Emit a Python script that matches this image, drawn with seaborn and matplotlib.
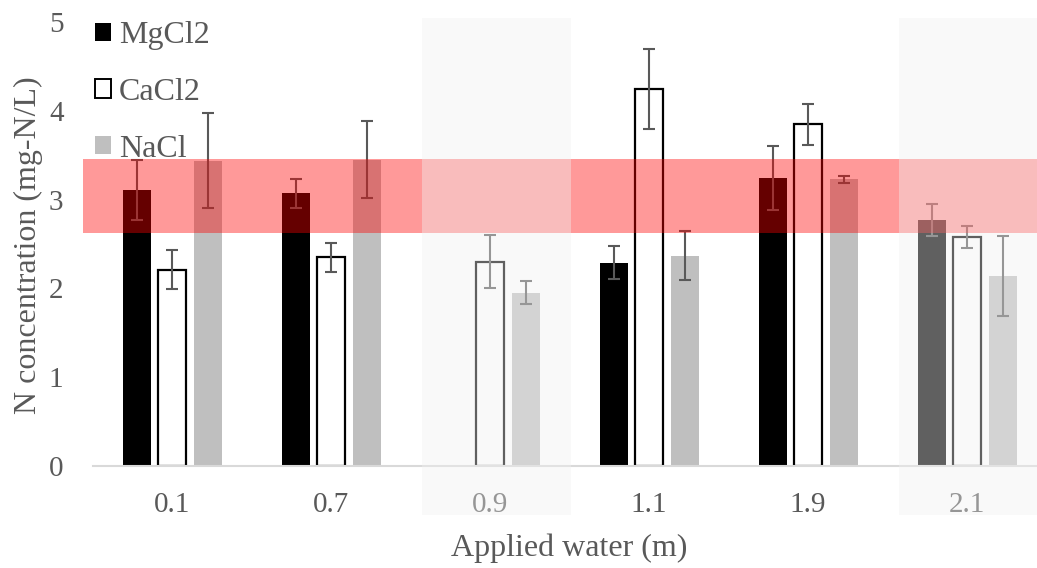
import numpy as np
import pandas as pd
import matplotlib
matplotlib.use("Agg")
import matplotlib.pyplot as plt
import seaborn as sns
from matplotlib.patches import Rectangle

# ---------------- data ----------------
categories = ["0.1", "0.7", "0.9", "1.1", "1.9", "2.1"]
series = ["MgCl2", "CaCl2", "NaCl"]
mgcl2 = [3.11, 3.07, np.nan, 2.29, 3.24, 2.77]
mgcl2_err = [0.34, 0.165, np.nan, 0.185, 0.36, 0.175]
cacl2 = [2.21, 2.35, 2.30, 4.25, 3.85, 2.58]
cacl2_err = [0.22, 0.165, 0.30, 0.45, 0.23, 0.12]
nacl = [3.44, 3.45, 1.95, 2.37, 3.23, 2.14]
nacl_err = [0.53, 0.43, 0.13, 0.28, 0.04, 0.45]
target_band = [2.62, 3.46]
highlighted = ["0.9", "2.1"]
yticks = [0, 1, 2, 3, 4, 5]

values = {"MgCl2": mgcl2, "CaCl2": cacl2, "NaCl": nacl}
errors = {"MgCl2": mgcl2_err, "CaCl2": cacl2_err, "NaCl": nacl_err}

rows = []
for s in series:
    for c, v in zip(categories, values[s]):
        rows.append({"water": c, "salt": s, "conc": v})
df = pd.DataFrame(rows).dropna()

# ---------------- style ----------------
sns.set_theme(style="white")
plt.rcParams["font.family"] = ["Liberation Serif", "DejaVu Serif"]
grey_txt = "#595959"
fills = {"MgCl2": "#000000", "CaCl2": "#ffffff", "NaCl": "#bfbfbf"}

fig = plt.figure(figsize=(10.37, 5.68), dpi=100)
L, R, B, T = 83 / 1037, 1.0, 1 - 466 / 568, 1 - 22 / 568
ax = fig.add_axes([L, B, R - L, T - B])

sns.barplot(data=df, x="water", y="conc", hue="salt", order=categories,
            hue_order=series, palette=fills, saturation=1, width=0.67,
            gap=0.21, errorbar=None, legend=False, ax=ax)

# edges + error bars
for s, cont in zip(series, ax.containers):
    for p in cont.patches:
        if s == "CaCl2":
            p.set_edgecolor("#000000")
            p.set_linewidth(1.6)
        else:
            p.set_linewidth(0)
        xc = p.get_x() + p.get_width() / 2
        idx = int(round(xc))
        e = errors[s][idx]
        ax.errorbar(xc, p.get_height(), yerr=e, fmt="none", ecolor=grey_txt,
                    elinewidth=1.5, capsize=4.3, capthick=1.5, zorder=3)

# target band
ax.axhspan(target_band[0], target_band[1], color="red", alpha=0.4, lw=0, zorder=4)

# highlighted (dimmed) columns
for c in highlighted:
    i = categories.index(c)
    ax.add_patch(Rectangle((i - 0.43, -0.55), 0.94, 5.6, transform=ax.transData,
                           facecolor="#f2f2f2", alpha=0.4, lw=0, clip_on=False,
                           zorder=10))

ax.set_xlim(-0.56, 5.44)
ax.set_ylim(0, 5)
ax.set_yticks(yticks)
ax.set_yticklabels([str(t) for t in yticks])
for side in ["left", "top", "right"]:
    ax.spines[side].set_visible(False)
ax.spines["bottom"].set_color("#d9d9d9")
ax.spines["bottom"].set_linewidth(1.5)
ax.spines["bottom"].set_bounds(-0.5, 5.6)
ax.tick_params(axis="both", length=0, labelsize=21, colors=grey_txt)
ax.tick_params(axis="y", pad=14)
ax.tick_params(axis="x", pad=19)

ax.set_xlabel("Applied water (m)", fontsize=23, color=grey_txt)
ax.set_ylabel("N concentration (mg-N/L)", fontsize=23, color=grey_txt)
ax.xaxis.label.set_va("center")
ax.yaxis.label.set_va("center")
ax.xaxis.set_label_coords((569 - 83) / 954, (466 - 548) / 444)
ax.yaxis.set_label_coords((28 - 83) / 954, (466 - 245) / 444)

handles = [Rectangle((0, 0), 1, 1, facecolor=fills[s],
                     edgecolor="#000000" if s == "CaCl2" else "none", lw=1.4)
           for s in series]
ax.legend(handles, series, loc="upper left", bbox_to_anchor=(95 / 1037, 1 - 21 / 568),
          bbox_transform=fig.transFigure, frameon=False, fontsize=23,
          labelcolor=grey_txt, handlelength=0.5, handleheight=0.5,
          handletextpad=0.25, labelspacing=0.87, borderpad=0, borderaxespad=0)

fig.savefig("out.png", dpi=100)
